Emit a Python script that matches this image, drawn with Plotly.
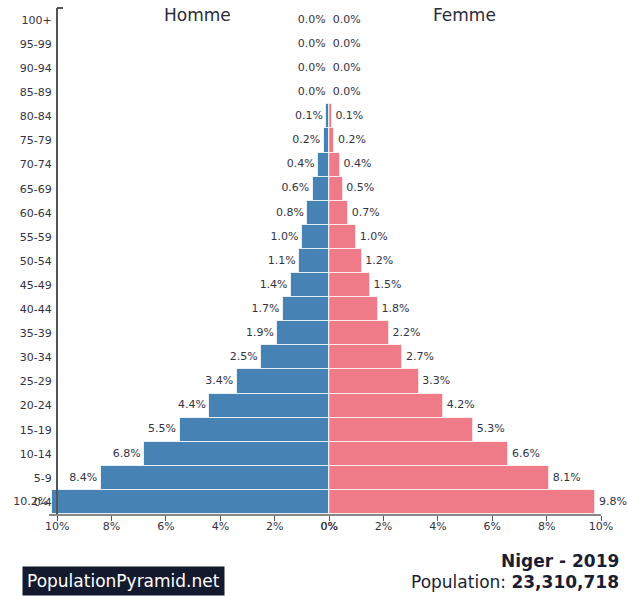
import plotly.graph_objects as go

ages = ["0-4", "5-9", "10-14", "15-19", "20-24", "25-29", "30-34", "35-39", "40-44",
        "45-49", "50-54", "55-59", "60-64", "65-69", "70-74", "75-79", "80-84",
        "85-89", "90-94", "95-99", "100+"]
male = [10.2, 8.4, 6.8, 5.5, 4.4, 3.4, 2.5, 1.9, 1.7, 1.4, 1.1, 1.0, 0.8, 0.6, 0.4,
        0.2, 0.1, 0.0, 0.0, 0.0, 0.0]
female = [9.8, 8.1, 6.6, 5.3, 4.2, 3.3, 2.7, 2.2, 1.8, 1.5, 1.2, 1.0, 0.7, 0.5, 0.4,
          0.2, 0.1, 0.0, 0.0, 0.0, 0.0]
tick_vals = [0, 2, 4, 6, 8, 10]
tick_text = ["0%", "2%", "4%", "6%", "8%", "10%"]

W, H = 628, 596
L, R, T, B = 49, 27, 8, 82
plot_w = W - L - R
ph = H - T - B
male_max = 10.3
female_max = 10.0
px_per = (601 - 329) / 10.0
split = (male_max * px_per) / plot_w

BLUE = "#4682b4"
PINK = "#ef7a88"
TXT = "#333344"
FONT = "DejaVu Sans"


def px_x(x):
    return (x - L) / plot_w


def px_y(y):
    return 1 - (y - T) / ph


fig = go.Figure()
fig.add_trace(go.Bar(x=male, y=ages, orientation="h", xaxis="x", yaxis="y",
                     marker=dict(color=BLUE, line=dict(color="rgba(255,255,255,0.75)", width=1)),
                     hoverinfo="skip", showlegend=False))
fig.add_trace(go.Bar(x=female, y=ages, orientation="h", xaxis="x2", yaxis="y2",
                     marker=dict(color=PINK, line=dict(color="rgba(255,255,255,0.75)", width=1)),
                     hoverinfo="skip", showlegend=False))
fig.add_trace(go.Scatter(x=male, y=ages, mode="text", xaxis="x", yaxis="y",
                         text=[f"{v:.1f}% " for v in male], textposition="middle left",
                         textfont=dict(size=11, color=TXT, family=FONT),
                         cliponaxis=False, hoverinfo="skip", showlegend=False))
fig.add_trace(go.Scatter(x=female, y=ages, mode="text", xaxis="x2", yaxis="y2",
                         text=[f" {v:.1f}%" for v in female], textposition="middle right",
                         textfont=dict(size=11, color=TXT, family=FONT),
                         cliponaxis=False, hoverinfo="skip", showlegend=False))

axis_common = dict(tickvals=tick_vals, ticktext=tick_text, ticks="outside", ticklen=5,
                   tickcolor="#555", showline=True, linecolor="#888", linewidth=2,
                   showgrid=False, zeroline=False, fixedrange=True, automargin=False,
                   ticklabelstandoff=-4,
                   tickfont=dict(size=11, color=TXT, family=FONT))

yaxis_pos = px_x(57)
yrange = [-0.5, len(ages) - 0.5]

fig.update_layout(
    width=W, height=H,
    margin=dict(l=L, r=R, t=T, b=B, autoexpand=False),
    paper_bgcolor="white", plot_bgcolor="white",
    bargap=0.0,
    font=dict(family=FONT, color=TXT),
    xaxis=dict(domain=[0, split], range=[male_max, 0], anchor="y", **axis_common),
    xaxis2=dict(domain=[split, 1], range=[0, female_max], anchor="y", **axis_common),
    yaxis=dict(anchor="free", position=yaxis_pos, categoryorder="array", categoryarray=ages,
               range=yrange, autorange=False,
               showline=True, linecolor="#555", linewidth=2, ticks="", showgrid=False,
               zeroline=False, fixedrange=True, ticklabelstandoff=2, automargin=False,
               tickfont=dict(size=11, color=TXT, family=FONT)),
    yaxis2=dict(overlaying="y", anchor="x2", categoryorder="array", categoryarray=ages,
                range=yrange, autorange=False,
                showticklabels=False, showline=False, showgrid=False, zeroline=False,
                fixedrange=True, automargin=False),
)

fig.add_annotation(text="Homme", x=px_x(197), y=px_y(15), xref="paper", yref="paper",
                   xanchor="center", yanchor="middle",
                   showarrow=False, font=dict(size=17, color="#2a2a3a", family=FONT))
fig.add_annotation(text="Femme", x=px_x(464), y=px_y(15), xref="paper", yref="paper",
                   xanchor="center", yanchor="middle",
                   showarrow=False, font=dict(size=17, color="#2a2a3a", family=FONT))
fig.add_annotation(text="<b>Niger - 2019</b>", x=px_x(621), y=px_y(561), xref="paper", yref="paper",
                   xanchor="right", yanchor="middle", showarrow=False,
                   font=dict(size=17, color="#1a1d33", family=FONT))
fig.add_annotation(text="Population: <b>23,310,718</b>", x=px_x(621), y=px_y(582), xref="paper",
                   yref="paper", xanchor="right", yanchor="middle", showarrow=False,
                   font=dict(size=17, color="#1a1d33", family=FONT))
fig.add_annotation(text="PopulationPyramid.net", x=px_x(22), y=px_y(581), xref="paper", yref="paper",
                   xanchor="left", yanchor="middle", showarrow=False, bgcolor="#131a2e",
                   borderpad=4, font=dict(size=17, color="white", family=FONT))
# top bracket tick of the y axis
fig.add_shape(type="line", xref="paper", yref="paper", x0=yaxis_pos, x1=px_x(63),
              y0=1, y1=1, line=dict(color="#555", width=2))

fig.write_html("out.html", config={"displayModeBar": False},
               post_script="document.body.style.margin='0';document.body.style.overflow='hidden';")
